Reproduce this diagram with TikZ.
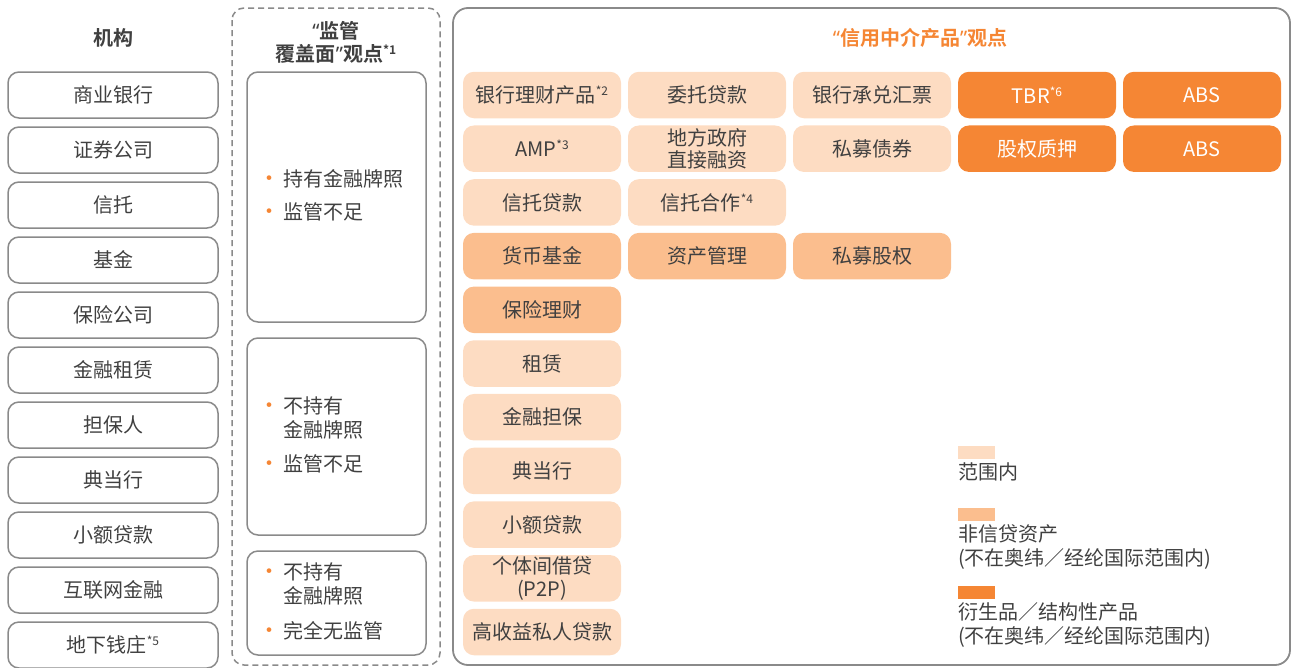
\documentclass[tikz,border=0pt]{standalone}
\usepackage{fontspec}
\setmainfont{Noto Sans CJK SC}[BoldFont={Noto Sans CJK SC Bold}]
\newfontfamily\quotefont{Noto Sans}
\usetikzlibrary{positioning}
\definecolor{lite}{HTML}{FDDCC2}
\definecolor{mid}{HTML}{FBBE8E}
\definecolor{deep}{HTML}{F58634}
\definecolor{ink}{HTML}{404040}
\definecolor{edge}{HTML}{8A8A8A}
\newcommand{\bul}{\makebox[25pt][l]{\textcolor{deep}{\fontsize{22}{22}\selectfont\textbullet}}}
\newcommand{\oq}{{\quotefont “}}
\newcommand{\cq}{{\quotefont ”}}
\newcommand{\fnote}[1]{\raisebox{7pt}{\fontsize{12}{12}\selectfont #1}}

\begin{document}
\begin{tikzpicture}[x=1pt,y=-1pt,
    font=\fontsize{20}{24}\selectfont, text=ink,
    inst/.style={draw=edge,line width=1.5pt,rounded corners=11pt,minimum width=210pt,minimum height=46pt,inner sep=0pt},
    cell/.style={rounded corners=11pt,minimum width=158pt,minimum height=46.5pt,inner sep=0pt,align=center,fill=lite},
    midcell/.style={cell,fill=mid},
    deepcell/.style={cell,fill=deep,text=white},
    item/.style={anchor=base west,inner sep=0pt},
    legbox/.style={minimum width=37pt,minimum height=13pt,inner sep=0pt},
    legtext/.style={inner sep=0pt,align=left,below right=3pt and 0pt of #1}]
  \useasboundingbox (0,0) rectangle (1292,667);

  % institutions
  \node[font=\fontsize{20}{24}\bfseries] (insthead) at (113,38) {机构};
  \foreach \name [count=\i] in {商业银行,证券公司,信托,基金,保险公司,金融租赁,担保人,典当行,小额贷款,互联网金融,{地下钱庄\fnote{*5}}}
    \node[inst] (inst\i) at (113,{95+55*(\i-1)}) {\name};

  % regulatory coverage
  \draw[edge,line width=1.5pt,dash pattern=on 6pt off 4pt,rounded corners=12pt] (232,8) rectangle (440,665);
  \node[font=\fontsize{20}{23}\bfseries,align=center] (reghead) at (336,42) {\oq 监管\\覆盖面\cq 观点\fnote{*1}};
  \node[draw=edge,line width=1.5pt,rounded corners=11pt,minimum width=179pt,minimum height=250pt] (reg1) at (336.5,197) {};
  \node[draw=edge,line width=1.5pt,rounded corners=11pt,minimum width=179pt,minimum height=197pt] (reg2) at (336.5,436.5) {};
  \node[draw=edge,line width=1.5pt,rounded corners=11pt,minimum width=179pt,minimum height=104pt] (reg3) at (336.5,603) {};
  \node[item] (lic1) at (258,186.5) {\bul 持有金融牌照};
  \node[item] (sup1) at (258,219.5) {\bul 监管不足};
  \node[item] (lic2) at (258,413.5) {\bul\begin{tabular}[t]{@{}l@{}}不持有\\金融牌照\end{tabular}};
  \node[item] (sup2) at (258,471.5) {\bul 监管不足};
  \node[item] (lic3) at (258,579.5) {\bul\begin{tabular}[t]{@{}l@{}}不持有\\金融牌照\end{tabular}};
  \node[item] (sup3) at (258,638.5) {\bul 完全无监管};

  % credit intermediation products
  \draw[edge,line width=1.8pt,rounded corners=15pt] (453,8) rectangle (1290,665);
  \node[font=\fontsize{20}{24}\bfseries,text=deep] (prodhead) at (920,38) {\oq 信用中介产品\cq 观点};

  \node[cell] (wmp) at (542,95) {银行理财产品\fnote{*2}};
  \node[cell] (amp) at (542,148.7) {AMP\fnote{*3}};
  \node[cell] (trustloan) at (542,202.4) {信托贷款};
  \node[midcell] (mmf) at (542,256.1) {货币基金};
  \node[midcell] (insur) at (542,309.8) {保险理财};
  \node[cell] (lease) at (542,363.5) {租赁};
  \node[cell] (guar) at (542,417.2) {金融担保};
  \node[cell] (pawn) at (542,470.9) {典当行};
  \node[cell] (micro) at (542,524.6) {小额贷款};
  \node[cell,font=\fontsize{20}{23}\selectfont] (p2p) at (542,578.3) {个体间借贷\\(P2P)};
  \node[cell] (hyield) at (542,632) {高收益私人贷款};

  \node[cell] (entrust) at (707,95) {委托贷款};
  \node[cell,font=\fontsize{20}{22}\selectfont] (lgfv) at (707,148.7) {地方政府\\直接融资};
  \node[cell] (trustco) at (707,202.4) {信托合作\fnote{*4}};
  \node[midcell] (asset) at (707,256.1) {资产管理};

  \node[cell] (accept) at (872,95) {银行承兑汇票};
  \node[cell] (pbond) at (872,148.7) {私募债券};
  \node[midcell] (pe) at (872,256.1) {私募股权};

  \node[deepcell] (tbr) at (1037,95) {TBR\fnote{*6}};
  \node[deepcell] (pledge) at (1037,148.7) {股权质押};
  \node[deepcell] (abs1) at (1202,95) {ABS};
  \node[deepcell] (abs2) at (1202,148.7) {ABS};

  % legend
  \node[legbox,fill=lite] (keylite) at (976.5,452.5) {};
  \node[legtext=keylite.south west] (txtlite) {范围内};
  \node[legbox,fill=mid] (keymid) at (976.5,514.5) {};
  \node[legtext=keymid.south west] (txtmid) {非信贷资产\\(不在奥纬／经纶国际范围内)};
  \node[legbox,fill=deep] (keydeep) at (976.5,592.5) {};
  \node[legtext=keydeep.south west] (txtdeep) {衍生品／结构性产品\\(不在奥纬／经纶国际范围内)};
\end{tikzpicture}
\end{document}
